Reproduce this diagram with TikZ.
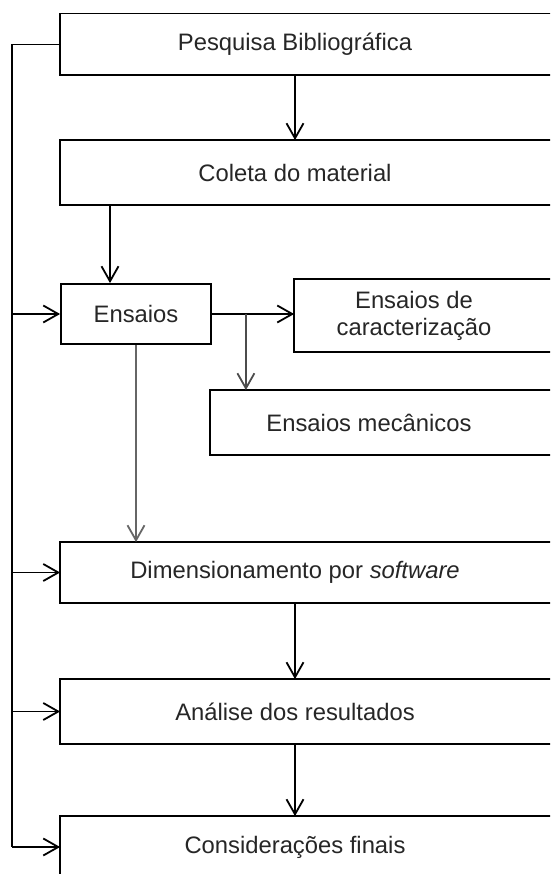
\documentclass[tikz,border=0pt]{standalone}
\usepackage{fontspec}
\setmainfont{Liberation Sans}
\usetikzlibrary{arrows.meta}

\tikzset{
  box/.style={minimum width=468pt, minimum height=60pt, inner sep=0pt,
    font=\fontsize{23.8}{27}\selectfont, text=black!85},
  arr/.style={-{Straight Barb[length=15pt,width=17pt]}},
}

\begin{document}
\begin{tikzpicture}[x=1pt, y=-1pt, line width=1.8pt]
    \useasboundingbox (0,0) rectangle (550,874);
    \clip (0,0) rectangle (550,874);

    \node[box] (pesq) at (295,44.5) {Pesquisa Bibliográfica};
    \node[box, minimum height=63pt] (coleta) at (295,172.5) {Coleta do material};
    \node[box, draw, minimum width=150pt] (ens) at (136,314) {Ensaios};
    \node[box, minimum width=238pt, minimum height=71pt, align=center] (carac) at (414,315.5) {Ensaios de\\caracterização};
    \node[box, minimum width=316pt, minimum height=63pt] (mec) at (369,422.5) {Ensaios mecânicos};
    \node[box, minimum height=59pt] (dim) at (295,572.5) {Dimensionamento por \textit{software}};
    \node[box, minimum height=63pt] (anal) at (295,711.5) {Análise dos resultados};
    \node[box] (cons) at (295,847) {Considerações finais};

    % boxes run past the right edge
    \foreach \n in {pesq,coleta,carac,mec,dim,anal,cons}
      \draw ([xshift=40pt]\n.north east) -- (\n.north west) -- (\n.south west) -- ([xshift=40pt]\n.south east);

    \draw[arr] (pesq) -- (coleta);
    \draw[arr] ([xshift=-26pt]ens.north |- coleta.south) -- ([xshift=-26pt]ens.north);
    \draw[arr] (ens.east) -- (ens.east -| carac.west);
    \coordinate (br) at ([xshift=34pt]ens.east);
    \draw[arr, black!70] (br) -- (br |- mec.north);
    \draw[arr, black!60] (ens.south) -- (ens.south |- dim.north);
    \draw[arr] (dim) -- (anal);
    \draw[arr] (anal) -- (cons);

    % feedback line on the left
    \coordinate (lp) at (12,0);
    \draw (pesq.west) -| (lp |- cons.west);
    \foreach \n in {ens,dim,anal,cons}
      \draw[arr] (lp |- \n.west) -- (\n.west);
\end{tikzpicture}
\end{document}
